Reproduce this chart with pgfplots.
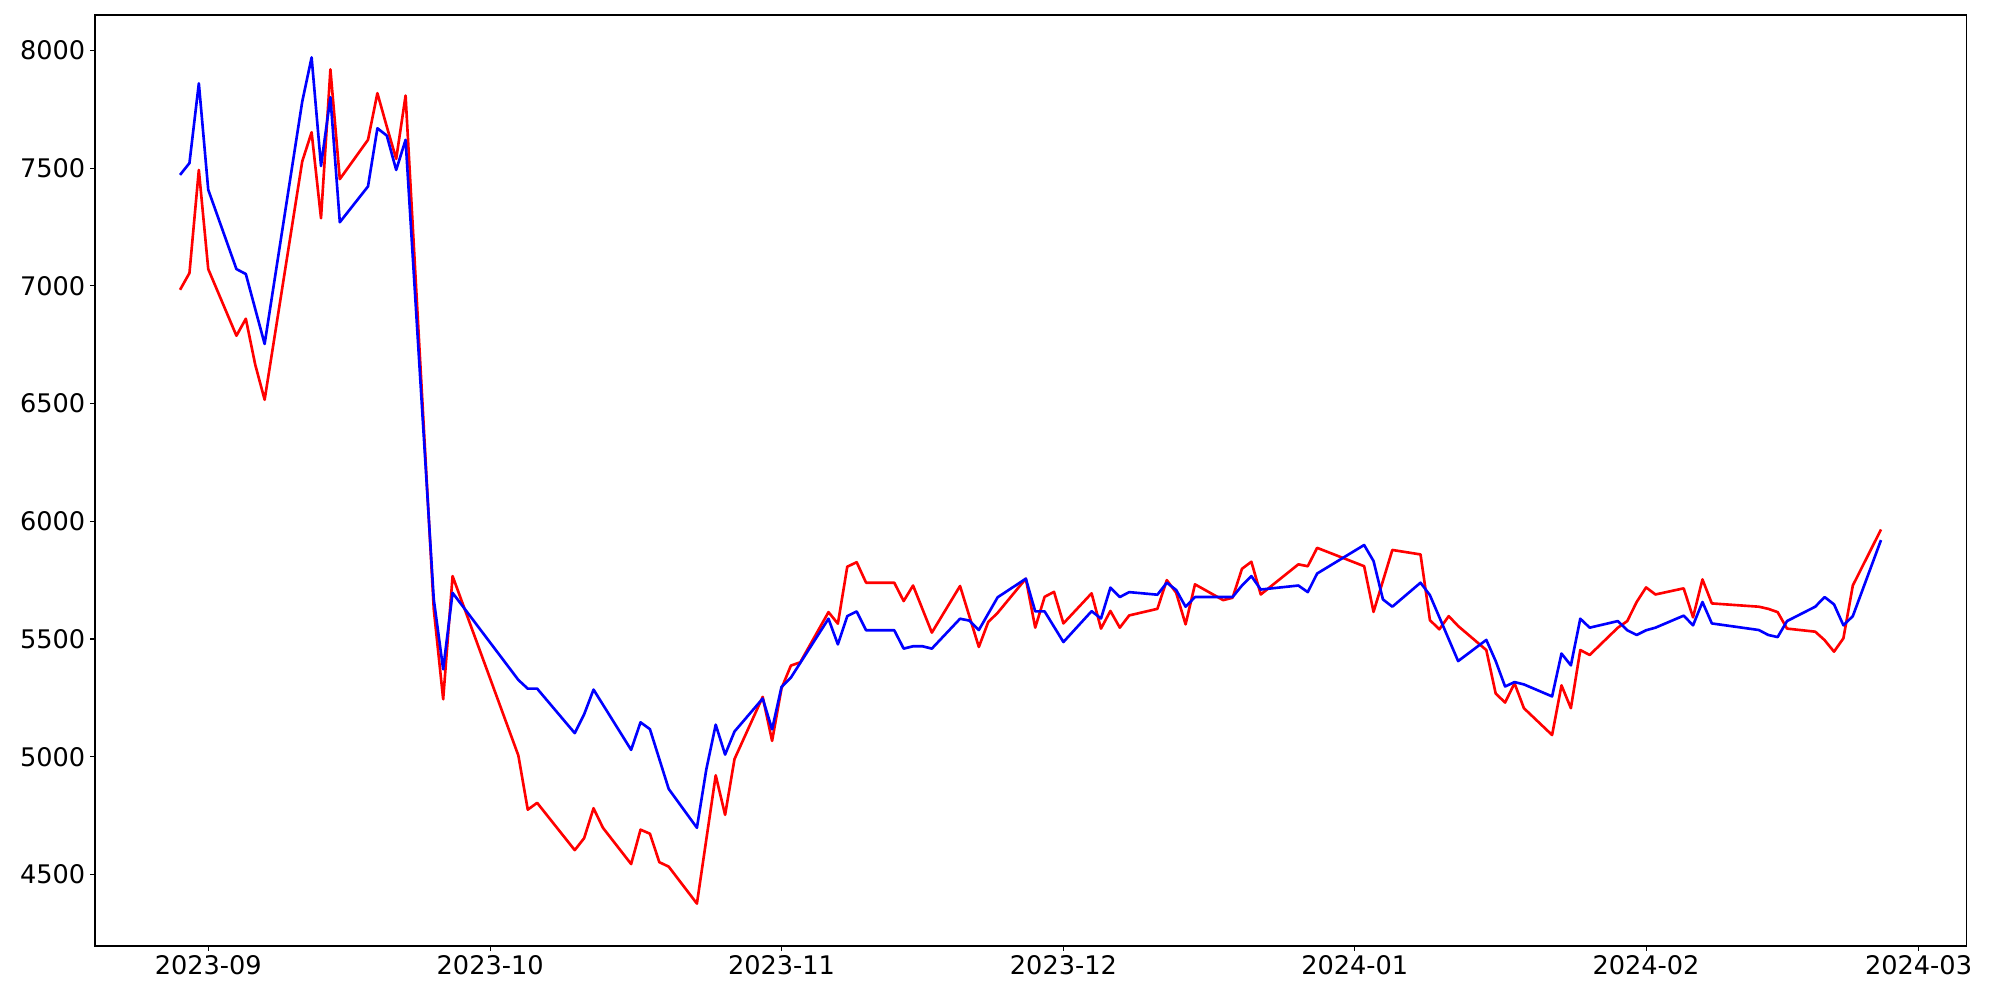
\documentclass[border=0pt]{standalone}
\usepackage{fontspec}
\setmainfont{DejaVu Sans}
\usepackage{pgfplots}
\pgfplotsset{compat=1.18}

% x = days since 2023-09-01
\begin{document}
\begin{tikzpicture}
\useasboundingbox (-68.66pt,-39.03pt) rectangle (1376.74pt,683.67pt);
\begin{axis}[
  at={(0,0)}, anchor=south west,
  scale only axis,
  width=1352.2pt, height=672.8pt,
  xmin=-12.05, xmax=187.05,
  ymin=4196, ymax=8150,
  xtick={0,30,61,91,122,153,182},
  xticklabels={2023-09,2023-10,2023-11,2023-12,2024-01,2024-02,2024-03},
  ytick={4500,5000,5500,6000,6500,7000,7500,8000},
  xtick pos=bottom, ytick pos=left,
  tick align=outside,
  major tick length=3.5pt,
  tick style={black, line width=0.8pt},
  axis line style={line width=0.8pt},
  ticklabel style={font=\fontsize{18.5}{22}\selectfont},
  /pgf/number format/assume math mode=true,
  /pgf/number format/1000 sep={},
]
\addplot[red, line width=1.9pt, line join=round] coordinates {
(-3,6983) (-2,7054) (-1,7492) (0,7071) (3,6788) (4,6860) (5,6665) (6,6516)
(10,7528) (11,7652) (12,7287) (13,7919) (14,7453) (17,7620) (18,7818) (19,7676)
(20,7539) (21,7808) (24,5626) (25,5244) (26,5767) (33,5005) (34,4775) (35,4804)
(39,4603) (40,4654) (41,4781) (42,4698) (45,4544) (46,4690) (47,4673) (48,4552)
(49,4533) (52,4376) (54,4921) (55,4753) (56,4990) (59,5254) (60,5067) (61,5290)
(62,5387) (63,5401) (66,5614) (67,5565) (68,5807) (69,5826) (70,5739) (73,5739)
(74,5661) (75,5727) (77,5527) (80,5725) (82,5466) (83,5572) (84,5611) (87,5756)
(88,5548) (89,5679) (90,5700) (91,5566) (94,5694) (95,5544) (96,5619) (97,5548)
(98,5600) (101,5628) (102,5750) (103,5696) (104,5562) (105,5732) (108,5665) (109,5675)
(110,5798) (111,5828) (112,5689) (116,5817) (117,5809) (118,5887) (123,5809) (124,5615)
(126,5878) (129,5859) (130,5580) (131,5541) (132,5597) (133,5555) (136,5453) (137,5268)
(138,5230) (139,5312) (140,5206) (143,5092) (144,5303) (145,5206) (146,5453) (147,5432)
(150,5548) (151,5576) (152,5657) (153,5719) (154,5689) (157,5715) (158,5592) (159,5753)
(160,5651) (165,5637) (166,5628) (167,5614) (168,5544) (171,5531) (172,5495) (173,5446)
(174,5503) (175,5727) (178,5965)
};
\addplot[blue, line width=1.9pt, line join=round] coordinates {
(-3,7471) (-2,7521) (-1,7860) (0,7408) (3,7071) (4,7050) (6,6753) (10,7782)
(11,7970) (12,7509) (13,7801) (14,7270) (17,7422) (18,7669) (19,7638) (20,7492)
(21,7620) (24,5668) (25,5371) (26,5696) (33,5326) (34,5289) (35,5289) (39,5100)
(40,5180) (41,5285) (45,5029) (46,5146) (47,5117) (49,4863) (52,4698) (53,4946)
(54,5136) (55,5009) (56,5107) (59,5247) (60,5116) (61,5296) (62,5336) (66,5586)
(67,5477) (68,5597) (69,5617) (70,5537) (73,5537) (74,5459) (75,5469) (76,5469)
(77,5459) (80,5586) (81,5578) (82,5538) (84,5677) (87,5756) (88,5617) (89,5617)
(91,5487) (94,5618) (95,5587) (96,5718) (97,5678) (98,5699) (101,5688) (102,5739)
(103,5708) (104,5637) (105,5678) (108,5678) (109,5678) (110,5727) (111,5767) (112,5710)
(116,5727) (117,5699) (118,5778) (123,5899) (124,5831) (125,5668) (126,5637) (129,5739)
(130,5686) (133,5406) (136,5496) (137,5406) (138,5298) (139,5317) (140,5307) (143,5256)
(144,5438) (145,5388) (146,5586) (147,5548) (150,5576) (151,5537) (152,5517) (153,5537)
(154,5548) (157,5599) (158,5558) (159,5657) (160,5566) (165,5538) (166,5517) (167,5508)
(168,5576) (171,5637) (172,5678) (173,5647) (174,5558) (175,5597) (178,5920)
};
\end{axis}
\end{tikzpicture}
\end{document}
